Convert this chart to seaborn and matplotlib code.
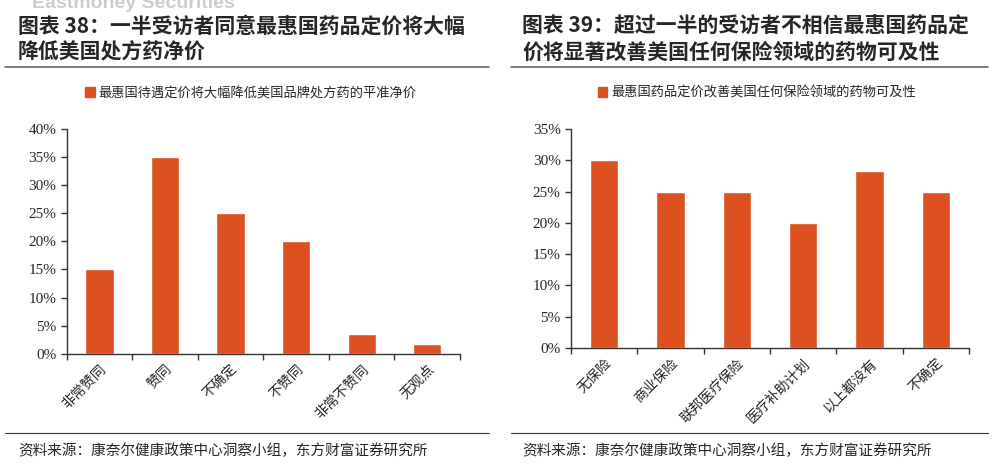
import matplotlib
matplotlib.use("Agg")
import matplotlib.pyplot as plt
import seaborn as sns
import pandas as pd
from matplotlib.patches import Patch
from matplotlib.lines import Line2D
from matplotlib.ticker import FuncFormatter, FixedLocator

sns.set_style("white")
plt.rcParams['font.family'] = ['Noto Sans CJK SC', 'DejaVu Sans']

# data
left_cats = ['非常赞同', '赞同', '不确定', '不赞同', '非常不赞同', '无观点']
left_vals = [15, 35, 25, 20, 3.5, 1.8]
left_title = '图表 38：一半受访者同意最惠国药品定价将大幅\n降低美国处方药净价'
left_legend = '最惠国待遇定价将大幅降低美国品牌处方药的平准净价'

right_cats = ['无保险', '商业保险', '联邦医疗保险', '医疗补助计划', '以上都没有', '不确定']
right_vals = [30, 25, 25, 20, 28.3, 25]
right_title = '图表 39：超过一半的受访者不相信最惠国药品定\n价将显著改善美国任何保险领域的药物可及性'
right_legend = '最惠国药品定价改善美国任何保险领域的药物可及性'

source = '资料来源：康奈尔健康政策中心洞察小组，东方财富证券研究所'

bar_color = '#DD5020'
W, H = 997, 467

fig = plt.figure(figsize=(9.97, 4.67), dpi=100)

def fx(px):
    return px / W

def fy(py):
    return 1 - py / H

def draw(rect, cats, vals, ymax, title, legend, tx, lx, line_x):
    ax = fig.add_axes(rect)
    df = pd.DataFrame({'cat': cats, 'val': vals})
    sns.barplot(data=df, x='cat', y='val', color=bar_color, width=0.43,
                saturation=1, ax=ax)
    ax.set_xlim(-0.5, len(cats) - 0.5)
    ax.set_ylim(0, ymax)
    ax.set_yticks(range(0, ymax + 1, 5))
    ax.yaxis.set_major_formatter(FuncFormatter(lambda v, p: f'{v:.0f}%'))
    ax.set_xlabel('')
    ax.set_ylabel('')
    for s in ['top', 'right']:
        ax.spines[s].set_visible(False)
    for s in ['left', 'bottom']:
        ax.spines[s].set_color('#333333')
        ax.spines[s].set_linewidth(1.0)
    ax.tick_params(axis='y', direction='out', length=4, width=1, color='#333333',
                   left=True, labelsize=11)
    for t in ax.get_yticklabels():
        t.set_fontfamily(['Liberation Serif', 'DejaVu Serif'])
    ax.xaxis.set_minor_locator(FixedLocator([i - 0.5 for i in range(len(cats) + 1)]))
    ax.tick_params(axis='x', which='minor', direction='out', length=4, width=1,
                   color='#333333', bottom=True)
    ax.tick_params(axis='x', which='major', length=0, pad=6, labelsize=10)
    ax.set_xticks(range(len(cats)))
    ax.set_xticklabels(cats, rotation=45, ha='right', rotation_mode='anchor')

    fig.text(fx(tx), fy(39), title, fontsize=15, fontweight='bold',
             va='center', ha='left', linespacing=1.3)
    fig.add_artist(Line2D([fx(line_x[0]), fx(line_x[1])], [fy(67), fy(67)],
                          color='#666666', lw=1.2))
    fig.legend(handles=[Patch(color=bar_color, label=legend)], loc='center',
               bbox_to_anchor=(fx(lx), fy(93)), frameon=False, fontsize=9.5,
               handlelength=0.7, handleheight=0.7, handletextpad=0.3)
    fig.add_artist(Line2D([fx(line_x[0]), fx(line_x[1])], [fy(433), fy(433)],
                          color='#333333', lw=0.8))
    fig.text(fx(tx), fy(451), source, fontsize=10.5, va='center', ha='left')
    return ax

draw([fx(66.7), fy(353.7), fx(460 - 66.7), (353.7 - 129) / H], left_cats, left_vals,
     40, left_title, left_legend, 18, 251, (5, 489))
draw([fx(571), fy(348), fx(969 - 571), (348 - 129) / H], right_cats, right_vals,
     35, right_title, right_legend, 522, 757, (511, 988))

# faint watermark remnant at the very top edge
fig.text(fx(32), fy(4), 'Eastmoney Securities', fontsize=14, color='#cccccc',
         fontweight='bold', va='center', ha='left', family=['Liberation Sans'])

fig.savefig('out.png', dpi=100)
